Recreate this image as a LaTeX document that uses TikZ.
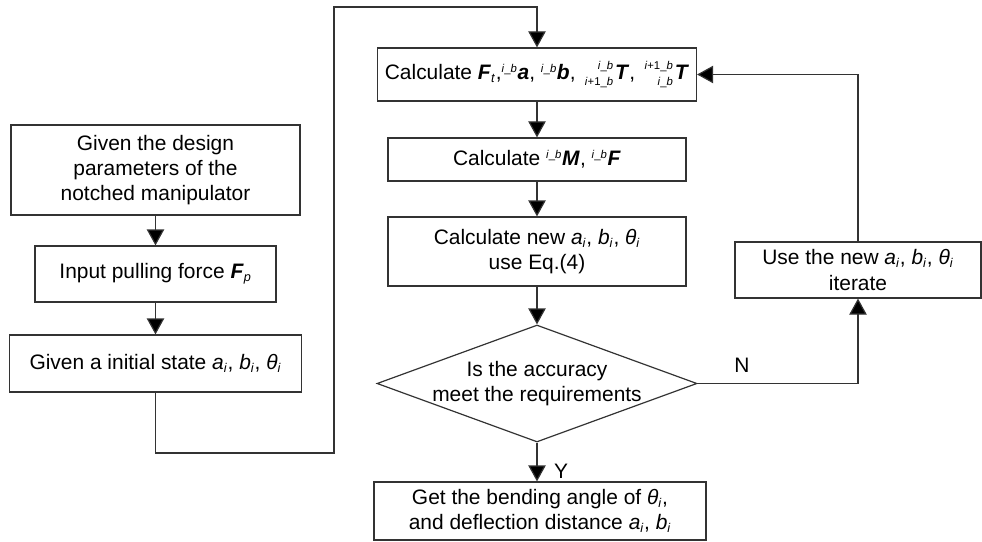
\documentclass[tikz,border=0pt]{standalone}
\usepackage{fontspec}
\setmainfont{Liberation Sans}
\usetikzlibrary{arrows.meta,shapes.geometric}

\newcommand{\ib}{\textit{i}\_\textit{b}}
\newcommand{\ipb}{\textit{i}+1\_\textit{b}}
\newcommand{\pre}[1]{\textsuperscript{\fontsize{8.5}{8.5}\selectfont#1}}
\newcommand{\prestack}[2]{\,\raisebox{1.5pt}{\fontsize{8.5}{11.5}\selectfont\begin{tabular}[c]{@{}r@{}}#1\\#2\end{tabular}}\kern1.5pt}
\newcommand{\vb}[1]{\textbf{\textit{#1}}}
\newcommand{\vi}[2]{\textit{#1}\textsubscript{\fontsize{9.5}{9.5}\selectfont\textit{#2}}}

\begin{document}
\begin{tikzpicture}[x=0.75pt,y=-0.75pt,
	font={\fontsize{15.7}{18.8}\selectfont},
	box/.style={draw=black!80,line width=0.9pt,inner sep=0pt,align=center},
	choice/.style={draw=black!80,line width=0.9pt,diamond,aspect=2.73,inner xsep=-10pt,inner ysep=0pt,align=center},
	arr/.style={draw=black!80,line width=0.9pt,-{Triangle[width=13pt,length=12pt,fill=black]}},
	line/.style={draw=black!80,line width=0.9pt}]
	\useasboundingbox (0,0) rectangle (982,542);

	\node[box,minimum width=216.75pt,minimum height=67.5pt] (given) at (155.5,170) {Given the design\\parameters of the\\notched manipulator};
	\node[box,minimum width=180.75pt,minimum height=42pt] (input) at (155.5,274) {Input pulling force \vb{F}\textsubscript{\fontsize{9.5}{9.5}\selectfont\textit{p}}};
	\node[box,minimum width=219pt,minimum height=42.75pt] (init) at (155.5,363.5) {Given a initial state \vi{a}{i}, \vi{b}{i}, \vi{θ}{i}};

	\node[box,minimum width=239.25pt,minimum height=39.75pt] (calc1) at (537,74.5) {Calculate \vb{F}\textsubscript{\fontsize{9.5}{9.5}\selectfont\textit{t}},\pre{\ib}\vb{a}, \pre{\ib}\vb{b}, \prestack{\ib}{\ipb}\vb{T}, \prestack{\ipb}{\ib}\vb{T}};
	\node[box,minimum width=223.5pt,minimum height=32.25pt] (calc2) at (537,159.5) {Calculate \pre{\ib}\vb{M}, \pre{\ib}\vb{F}};
	\node[box,minimum width=223.5pt,minimum height=51.75pt] (calc3) at (537,251.5) {Calculate new \vi{a}{i}, \vi{b}{i}, \vi{θ}{i}\\use Eq.(4)};
	\node[choice,minimum width=240pt,minimum height=87.75pt] (check) at (537,383.5) {Is the accuracy\\meet the requirements};
	\node[box,minimum width=249pt,minimum height=43.5pt] (result) at (540,511) {Get the bending angle of \vi{θ}{i},\\and deflection distance \vi{a}{i}, \vi{b}{i}};
	\node[box,minimum width=184.5pt,minimum height=42pt] (update) at (858,270) {Use the new \vi{a}{i}, \vi{b}{i}, \vi{θ}{i}\\iterate};

	\coordinate (lowturn) at (334,453);
	\coordinate (topturn) at (334,7);

	\draw[arr] (given) -- (input);
	\draw[arr] (input) -- (init);
	\draw[arr] (init.south) |- (lowturn) -- (topturn) -| (calc1.north);
	\draw[arr] (calc1) -- (calc2);
	\draw[arr] (calc2) -- (calc3);
	\draw[arr] (calc3) -- (check);
	\draw[arr] (check.south) -- (check.south |- result.north);
	\draw[arr] (check.east) -| (update.south);
	\draw[arr] (update.north) |- (calc1.east);

	\node (no) at (742,365) {N};
	\node (yes) at (561,471) {Y};
\end{tikzpicture}
\end{document}
